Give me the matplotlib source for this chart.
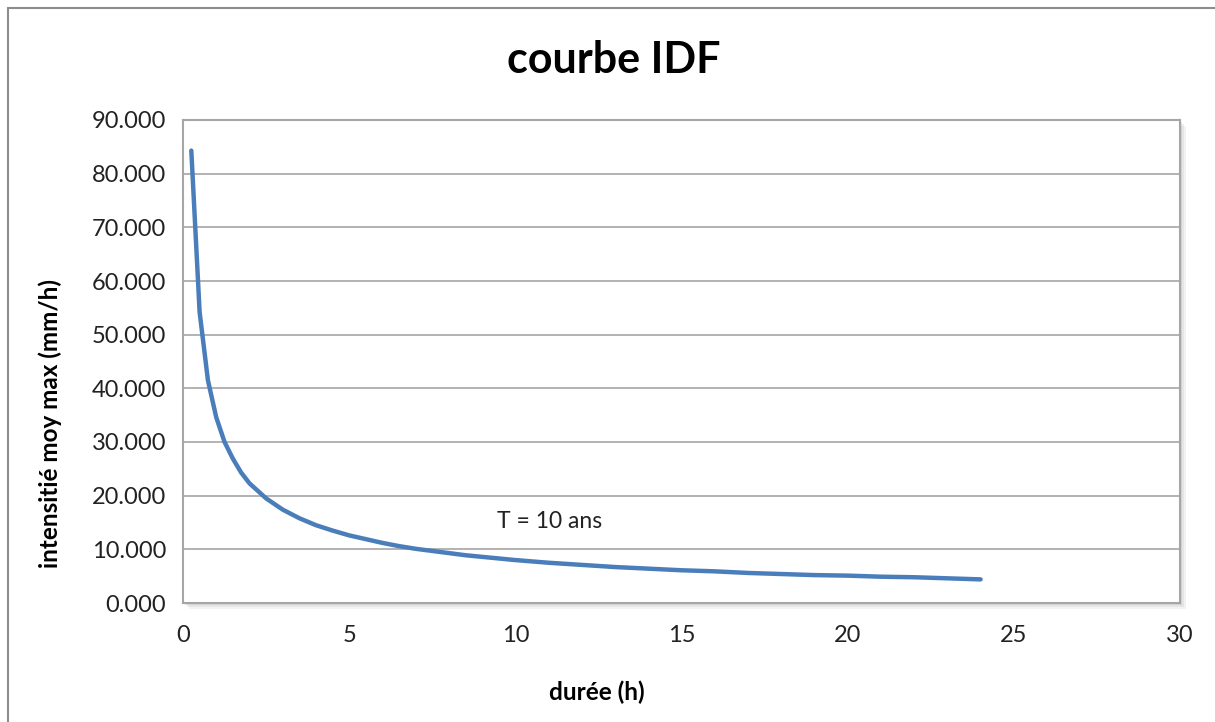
import matplotlib
matplotlib.use("Agg")
import matplotlib.pyplot as plt
from matplotlib.patches import Rectangle

# durée (h) and intensité moyenne max (mm/h), T = 10 ans
duree = [0.25, 0.5, 0.75, 1, 1.25, 1.5, 1.75, 2, 2.5, 3, 3.5, 4, 4.5, 5, 5.5, 6,
         6.5, 7, 7.5, 8, 8.5, 9, 9.5, 10, 11, 12, 13, 14, 15, 16, 17, 18, 19,
         20, 21, 22, 23, 24]
intensite = [84.3, 54.2, 41.5, 34.6, 30.0, 26.9, 24.3, 22.3, 19.5, 17.4, 15.8,
             14.5, 13.5, 12.6, 11.9, 11.2, 10.6, 10.1, 9.7, 9.3, 8.9, 8.6, 8.3,
             8.0, 7.5, 7.1, 6.7, 6.4, 6.1, 5.9, 5.6, 5.4, 5.2, 5.1, 4.9, 4.8,
             4.6, 4.4]
y_ticks = [0, 10, 20, 30, 40, 50, 60, 70, 80, 90]
x_ticks = [0, 5, 10, 15, 20, 25, 30]

plt.rcParams['font.family'] = ['Lato', 'DejaVu Sans']

W, H = 1215, 722
fig = plt.figure(figsize=(W / 100, H / 100), dpi=100)

# outer chart border
fig.patches.append(Rectangle((8 / W, -0.1), 1.2, 1 - 8 / H + 0.1, transform=fig.transFigure,
                             fill=False, edgecolor='#8c8c8c', linewidth=1.5, clip_on=False))

left, right, bottom, top = 183 / W, 1180 / W, 1 - 603 / H, 1 - 120 / H
# soft drop shadow behind the plot area
for i, a in enumerate([0.10, 0.14, 0.2]):
    off = (3 - i) * 2
    fig.patches.append(Rectangle((left + off / W, bottom - off / H), right - left, top - bottom,
                                 transform=fig.transFigure, facecolor='#909090', alpha=a,
                                 edgecolor='none', zorder=0))

ax = fig.add_axes([left, bottom, right - left, top - bottom])
ax.set_zorder(5)
ax.set_facecolor('white')
ax.plot(duree, intensite, color='#4a7ebb', linewidth=3.2, solid_capstyle='round', zorder=3)

ax.set_xlim(0, 30)
ax.set_ylim(0, 90)
ax.set_xticks(x_ticks)
ax.set_yticks(y_ticks)
ax.set_yticklabels([f"{v:.3f}" for v in y_ticks])
ax.tick_params(length=0, labelsize=17, colors='#222222')
ax.tick_params(axis='x', pad=16)
ax.tick_params(axis='y', pad=12)
ax.grid(True, axis='y', color='#a6a6a6', linewidth=1.2)
ax.set_axisbelow(True)
for s in ax.spines.values():
    s.set_color('#a6a6a6')
    s.set_linewidth(1.5)

ax.text(9.45, 15.1, "T = 10 ans", fontsize=16.5, va='center', ha='left', color='#222222')

fig.text(614 / W, 1 - 60 / H, "courbe IDF", fontsize=31, fontweight='bold', ha='center', va='center')
fig.text(597 / W, 1 - 692 / H, "durée (h)", fontsize=17.5, fontweight='bold', ha='center', va='center')
fig.text(50 / W, 1 - 424 / H, "intensitié moy max (mm/h)", fontsize=17.5, fontweight='bold',
         ha='center', va='center', rotation=90)

fig.savefig("out.png", dpi=100, facecolor='white')
